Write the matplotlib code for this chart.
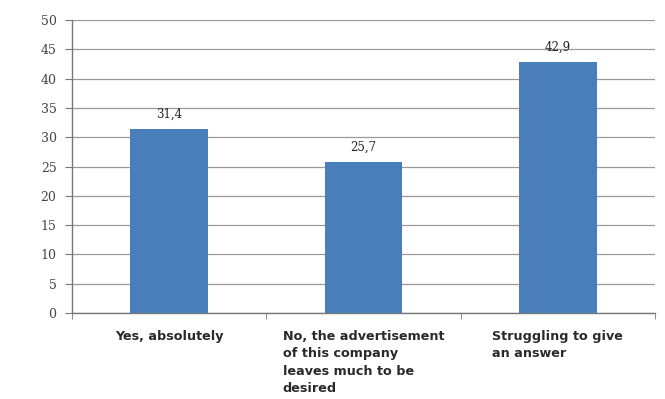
import matplotlib
matplotlib.use("Agg")
import matplotlib.pyplot as plt
import numpy as np

categories = ["Yes, absolutely",
              "No, the advertisement\nof this company\nleaves much to be\ndesired",
              "Struggling to give\nan answer"]
values = [31.4, 25.7, 42.9]
value_labels = ["31,4", "25,7", "42,9"]
yticks = [0, 5, 10, 15, 20, 25, 30, 35, 40, 45, 50]

fig = plt.figure(figsize=(6.65, 3.99), dpi=100)
ax = fig.add_axes([0.108, 0.2155, 0.877, 0.734])

x = np.arange(len(categories))
ax.bar(x, values, width=0.4, color="#4a7ebb", zorder=3)
ax.set_xlim(-0.5, len(categories) - 0.5)
ax.set_ylim(0, 50)
ax.set_yticks(yticks)
ax.set_yticklabels([str(t) for t in yticks], family="DejaVu Serif", fontsize=9, color="#444444")
ax.yaxis.grid(True, color="#9a9a9a", linewidth=0.9, zorder=0)
ax.tick_params(axis="y", direction="out", length=5, color="#777777", pad=6)

ax.set_xticks(x)
ax.set_xticklabels(categories, fontsize=9.2, fontweight="bold", family="DejaVu Sans",
                   color="#2a2a2a", multialignment="left", va="top", linespacing=1.45)
ax.tick_params(axis="x", length=0, pad=12)
ax.set_xticks(np.arange(-0.5, len(categories)), minor=True)
ax.tick_params(axis="x", which="minor", direction="out", length=4, color="#777777")

for s in ["top", "right"]:
    ax.spines[s].set_visible(False)
for s in ["left", "bottom"]:
    ax.spines[s].set_color("#777777")
    ax.spines[s].set_linewidth(1.0)

for xi, v, lab in zip(x, values, value_labels):
    ax.annotate(lab, (xi, v), xytext=(0, 6), textcoords="offset points",
                ha="center", va="bottom", family="DejaVu Serif", fontsize=8.5, color="#222222")

fig.savefig("out.png", dpi=100)
